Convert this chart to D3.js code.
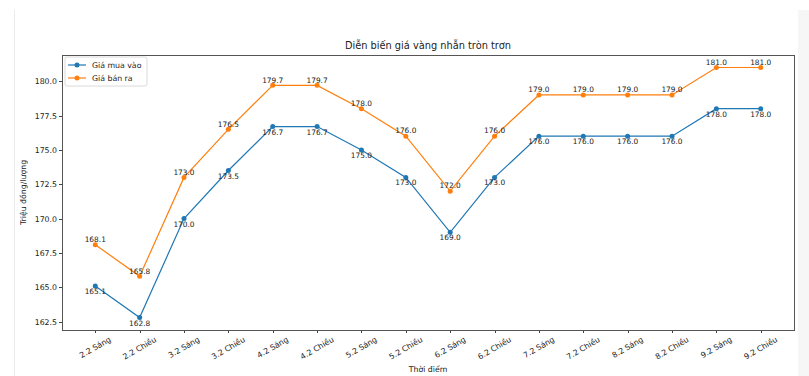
<!DOCTYPE html>
<html>
<head>
<meta charset="utf-8">
<script src="https://cdn.jsdelivr.net/npm/d3@7"></script>
<style>
  body { margin: 0; background: #fff; }
  svg { display: block; font-family: 'DejaVu Sans', sans-serif; }
</style>
</head>
<body>
<svg id="chart" width="809" height="376"></svg>
<script>
const labels = ['2.2 Sáng', '2.2 Chiều', '3.2 Sáng', '3.2 Chiều', '4.2 Sáng', '4.2 Chiều',
  '5.2 Sáng', '5.2 Chiều', '6.2 Sáng', '6.2 Chiều', '7.2 Sáng', '7.2 Chiều',
  '8.2 Sáng', '8.2 Chiều', '9.2 Sáng', '9.2 Chiều']
const muaVao = [165.1, 162.8, 170.0, 173.5, 176.7, 176.7, 175.0, 173.0, 169.0, 173.0, 176.0, 176.0, 176.0, 176.0, 178.0, 178.0]
const banRa = [168.1, 165.8, 173.0, 176.5, 179.7, 179.7, 178.0, 176.0, 172.0, 176.0, 179.0, 179.0, 179.0, 179.0, 181.0, 181.0]
const yTicks = [162.5, 165.0, 167.5, 170.0, 172.5, 175.0, 177.5, 180.0]

const series = [
  { name: 'Giá mua vào', values: muaVao, color: '#1f77b4', below: true },
  { name: 'Giá bán ra', values: banRa, color: '#ff7f0e', below: false }
]

const svg = d3.select('#chart')
const margin = { left: 62, right: 794, top: 55, bottom: 330 }

// notebook frame
svg.append('rect').attr('x', 798).attr('y', 10).attr('width', 11).attr('height', 366).attr('fill', '#f6f6f6')
svg.append('line').attr('x1', 14.5).attr('x2', 14.5).attr('y1', 10).attr('y2', 376).attr('stroke', '#ececec')

const x = d3.scalePoint().domain(labels).range([margin.left, margin.right]).padding(0.75)
const all = muaVao.concat(banRa)
const lo = d3.min(all), hi = d3.max(all), pad = (hi - lo) * 0.05
const y = d3.scaleLinear().domain([lo - pad, hi + pad]).range([margin.bottom, margin.top])

// y axis
const yAxis = svg.append('g')
yTicks.forEach(t => {
  const yy = Math.round(y(t)) + 0.5
  yAxis.append('line').attr('x1', margin.left - 3).attr('x2', margin.left).attr('y1', yy).attr('y2', yy).attr('stroke', '#444')
  yAxis.append('text').attr('x', margin.left - 5).attr('y', yy).attr('text-anchor', 'end')
    .attr('dominant-baseline', 'central').attr('font-size', 7.8).attr('fill', '#222').text(t.toFixed(1))
})

// x axis
const xAxis = svg.append('g')
labels.forEach(l => {
  const xx = Math.round(x(l)) + 0.5
  xAxis.append('line').attr('x1', xx).attr('x2', xx).attr('y1', margin.bottom).attr('y2', margin.bottom + 3).attr('stroke', '#444')
  const t = xAxis.append('text').attr('font-size', 7.8).attr('fill', '#222')
    .attr('text-anchor', 'middle').attr('dominant-baseline', 'central').text(l)
  const w = t.node().getComputedTextLength()
  const h = 9
  const a = Math.PI / 6
  const bh = w * Math.sin(a) + h * Math.cos(a)
  t.attr('transform', `translate(${x(l)},${margin.bottom + 5 + bh / 2}) rotate(-30)`)
})

// spines
svg.append('rect').attr('x', margin.left + 0.5).attr('y', margin.top + 0.5)
  .attr('width', margin.right - margin.left).attr('height', margin.bottom - margin.top)
  .attr('fill', 'none').attr('stroke', '#555').attr('stroke-width', 1)

// lines, markers, value labels
const line = d3.line().x((d, i) => x(labels[i])).y(d => y(d))
series.forEach(s => {
  const g = svg.append('g')
  g.append('path').datum(s.values).attr('d', line).attr('fill', 'none')
    .attr('stroke', s.color).attr('stroke-width', 1.2)
  g.selectAll('circle').data(s.values).join('circle')
    .attr('cx', (d, i) => x(labels[i])).attr('cy', d => y(d)).attr('r', 2.5).attr('fill', s.color)
  g.selectAll('text').data(s.values).join('text')
    .attr('x', (d, i) => x(labels[i]))
    .attr('y', d => s.below ? y(d) + 8 : y(d) - 2.7)
    .attr('text-anchor', 'middle').attr('font-size', 7.4).attr('fill', '#222')
    .text(d => d.toFixed(1))
})

// title and axis labels
svg.append('text').attr('x', (margin.left + margin.right) / 2).attr('y', 49).attr('text-anchor', 'middle')
  .attr('font-size', 9.8).attr('fill', '#222').text('Diễn biến giá vàng nhẫn tròn trơn')
svg.append('text').attr('x', (margin.left + margin.right) / 2).attr('y', 372).attr('text-anchor', 'middle')
  .attr('font-size', 7.8).attr('fill', '#222').text('Thời điểm')
svg.append('text').attr('transform', `translate(26,${(margin.top + margin.bottom) / 2}) rotate(-90)`)
  .attr('text-anchor', 'middle').attr('font-size', 7.8).attr('fill', '#222').text('Triệu đồng/lượng')

// legend
const lg = svg.append('g').attr('transform', 'translate(65,57)')
lg.append('rect').attr('width', 82).attr('height', 29).attr('rx', 2)
  .attr('fill', 'rgba(255,255,255,0.8)').attr('stroke', '#d0d0d0').attr('stroke-width', 0.8)
series.forEach((s, i) => {
  const yy = 8 + i * 13
  lg.append('line').attr('x1', 3).attr('x2', 21).attr('y1', yy).attr('y2', yy).attr('stroke', s.color).attr('stroke-width', 1.2)
  lg.append('circle').attr('cx', 12).attr('cy', yy).attr('r', 2.5).attr('fill', s.color)
  lg.append('text').attr('x', 27).attr('y', yy).attr('dominant-baseline', 'central')
    .attr('font-size', 7.8).attr('fill', '#222').text(s.name)
})
</script>
</body>
</html>
